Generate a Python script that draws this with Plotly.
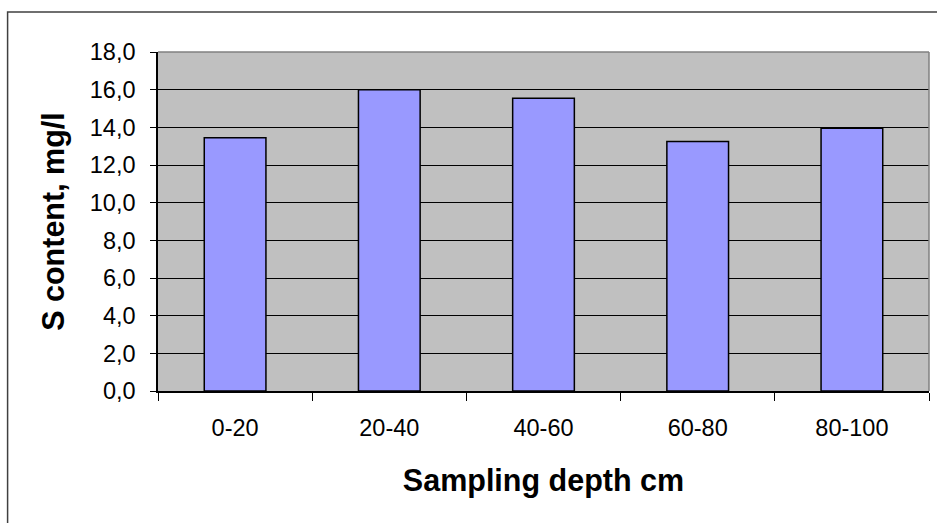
import plotly.graph_objects as go

categories = ["0-20", "20-40", "40-60", "60-80", "80-100"]
values = [13.45, 16.0, 15.55, 13.25, 13.95]
y_ticks = [0, 2, 4, 6, 8, 10, 12, 14, 16, 18]

fig = go.Figure()
fig.add_trace(go.Bar(
    x=categories, y=values,
    marker=dict(color="#9999FF", line=dict(color="#000000", width=1.5)),
))

W, H = 937, 523
L, R, T, B = 157.5, 8, 52, 132
pw, ph = W - L - R, H - T - B

def px_x(x):
    return (x - L) / pw

def px_y(y):
    return (H - B - y) / ph

font = "Liberation Sans, Arial, sans-serif"
fig.update_layout(
    width=W, height=H,
    margin=dict(l=L, r=R, t=T, b=B, pad=0),
    paper_bgcolor="#FFFFFF",
    plot_bgcolor="#C0C0C0",
    bargap=0.6,
    showlegend=False,
    separators=", ",
    font=dict(family=font, color="#000000", size=23),
    xaxis=dict(
        type="category",
        showgrid=False,
        showline=True, linecolor="#000000", linewidth=1.5,
        ticks="outside", tickson="boundaries", ticklen=8, tickcolor="#000000", tickwidth=1,
        tickfont=dict(size=23.5), ticklabelstandoff=15,
        title=dict(text="<b>Sampling depth cm</b>", font=dict(size=30.5), standoff=30),
    ),
    yaxis=dict(
        range=[0, 18], tickvals=y_ticks, tickformat=".1f",
        showgrid=True, gridcolor="#000000", gridwidth=1,
        showline=True, linecolor="#000000", linewidth=1.5,
        ticks="outside", ticklen=6, tickcolor="#000000", tickwidth=1,
        tickfont=dict(size=23.5), ticklabelstandoff=10,
        zeroline=False,
        title=dict(text="<b>S content, mg/l</b>", font=dict(size=30.5), standoff=16),
    ),
    shapes=[
        dict(type="line", xref="paper", yref="paper", x0=0, x1=1, y0=1, y1=1,
             line=dict(color="#808080", width=1.5), layer="above"),
        dict(type="line", xref="paper", yref="paper", x0=1, x1=1, y0=0, y1=1,
             line=dict(color="#808080", width=1.5), layer="above"),
        dict(type="rect", xref="paper", yref="paper",
             x0=px_x(7), x1=px_x(945), y0=px_y(530), y1=px_y(12),
             line=dict(color="#404040", width=1.5), fillcolor="rgba(0,0,0,0)", layer="above"),
    ],
)

fig.write_html("out.html")
